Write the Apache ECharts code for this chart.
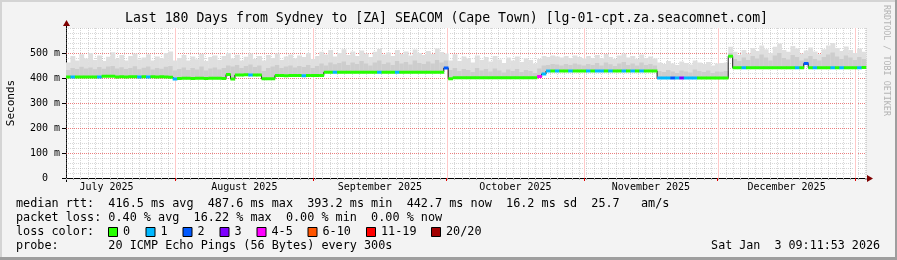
<!DOCTYPE html>
<html><head><meta charset="utf-8">
<script src="https://cdn.jsdelivr.net/npm/echarts@6/dist/echarts.min.js"></script>
<style>html,body{margin:0;padding:0;background:#f3f3f3}#c{width:897px;height:260px}</style>
</head><body><div id="c"></div><script>
// ---- data ----
const DAY0 = 6.383; // start of window (Jul 7 09:11) in days since Jul 1 2025
const SPAN = 180;
const monthStarts = [31, 62, 92, 123, 153, 184];
const monthMids = [15.5, 46.5, 77, 107.5, 138, 168.5];
const monthNames = ['July 2025', 'August 2025', 'September 2025', 'October 2025', 'November 2025', 'December 2025'];
const yTickValues = [0, 100, 200, 300, 400, 500];

const median = [
404,404,404,404,404,404,404,404,407,407,
407,404,405,404,405,405,404,405,404,405,
404,405,404,403,396,398,399,399,398,399,
399,398,399,399,399,398,414,396,412,412,
413,412,412,412,397,397,397,410,410,409,
410,410,410,409,410,410,410,410,423,423,
423,423,423,423,423,423,423,423,423,423,
423,423,423,423,423,423,423,423,423,423,
423,423,423,423,423,440,397,401,401,401,
401,401,401,401,401,401,401,401,401,401,
401,401,401,401,401,401,406,416,428,428,
428,428,428,428,428,428,428,428,428,428,
428,428,428,428,428,428,428,428,428,428,
428,428,428,400,400,400,400,400,400,400,
400,400,400,400,400,400,400,400,400,487,
441,441,441,441,441,441,441,441,441,441,
441,441,441,441,441,441,458,441,441,441,
441,441,441,441,441,441,441,441,441,442];

const loss = [
0,1,0,0,0,0,0,1,0,0,
0,0,0,0,0,0,1,0,1,0,
0,0,0,0,1,0,0,0,0,0,
0,0,0,0,0,0,0,0,0,0,
0,1,0,0,0,0,0,0,0,0,
0,0,0,1,0,0,0,0,0,0,
1,0,0,0,0,0,0,0,0,0,
1,0,0,0,1,0,0,0,0,0,
0,0,0,0,0,2,0,0,0,0,
0,0,0,0,0,0,0,0,0,0,
0,0,0,0,0,0,4,1,1,0,
1,0,0,1,0,0,0,1,0,1,
1,0,1,0,0,1,0,1,0,1,
0,0,0,1,1,1,2,1,3,1,
1,1,0,0,0,0,0,0,0,0,
0,0,1,0,0,0,0,0,0,0,
0,0,0,0,1,0,2,0,1,0,
0,0,1,0,1,0,0,0,1,0];

const smokeMid = [
432,440,436,445,438,442,435,444,437,446,
448,438,443,436,440,447,435,441,446,434,
440,437,445,448,430,
436,442,432,440,434,446,430,438,442,434,
440,450,446,452,440,448,454,444,450,428,
440,446,452,440,446,450,442,448,444,452,440,
448,458,450,462,455,460,466,452,462,456,
468,458,450,462,470,456,462,452,468,458,
464,454,470,460,456,466,458,472,462,470,
432,440,428,436,432,424,440,430,436,426,
438,430,422,434,428,436,424,432,428,420,
438,450,452,456,454,450,456,452,458,454,450,
456,452,460,450,462,455,448,458,464,452,
458,450,462,452,456,450,428,424,432,426,
420,430,426,422,434,428,424,430,420,426,
425,428,500,
476,468,482,472,488,478,494,482,470,490,
500,480,474,492,484,470,478,488,476,470,
484,494,502,486,476,490,482,472,484,476];

const smokeHi = [
462,488,470,495,478,500,472,490,468,485,
503,476,492,470,488,498,474,482,495,470,
486,478,500,506,470,
480,492,470,486,475,497,468,484,490,472,
488,500,478,493,470,485,498,476,488,470,
492,480,498,472,486,494,478,490,484,500,476,
488,505,494,512,486,500,515,492,506,488,
510,498,484,505,516,494,502,488,512,496,
506,490,514,500,492,508,496,518,504,498,
470,495,468,486,478,462,490,472,484,466,
488,474,460,482,470,486,464,478,472,458,
476,488,484,490,486,482,488,480,490,484,478,
488,480,492,478,496,484,476,490,498,482,
488,476,494,480,486,478,
462,456,468,458,452,466,460,454,470,462,
456,464,450,458,
460,462,525,
505,492,512,498,520,508,530,515,500,525,
538,512,505,528,518,498,510,522,506,495,
515,530,540,520,508,526,512,500,518,505];

const lossLabels = ['0', '1', '2', '3', '4-5', '6-10', '11-19', '20/20'];
const lossColors = ['#26ff00', '#00b8ff', '#0059ff', '#7e00ff', '#ff00ff', '#ff5500', '#ff0000', '#a10000'];

const titleText = 'Last 180 Days from Sydney to [ZA] SEACOM (Cape Town) [lg-01-cpt.za.seacomnet.com]';
const legendLines = [
  'median rtt:  416.5 ms avg  487.6 ms max  393.2 ms min  442.7 ms now  16.2 ms sd  25.7   am/s',
  'packet loss: 0.40 % avg  16.22 % max  0.00 % min  0.00 % now',
  'loss color:',
  'probe:       20 ICMP Echo Pings (56 Bytes) every 300s'
];
const dateText = 'Sat Jan  3 09:11:53 2026';
const sideText = 'RRDTOOL / TOBI OETIKER';

// ---- helpers ----
function lossColor(n) {
  if (n <= 0) return lossColors[0];
  if (n === 1) return lossColors[1];
  if (n === 2) return lossColors[2];
  if (n === 3) return lossColors[3];
  if (n <= 5) return lossColors[4];
  if (n <= 10) return lossColors[5];
  if (n <= 19) return lossColors[6];
  return lossColors[7];
}
const MONO = 'DejaVu Sans Mono';
const smokeData = median.map((m, i) => [DAY0 + i + 0.5, m, smokeMid[i], smokeHi[i]]);
const bandData = median.map((m, i) => [DAY0 + i + 0.5, m, loss[i]]);
const lineData = [[DAY0, median[0]]].concat(median.map((m, i) => [DAY0 + i + 0.5, m]), [[DAY0 + SPAN, median[median.length - 1]]]);
const monthLineData = monthStarts.filter(d => d > DAY0 && d < DAY0 + SPAN).map(d => [d, 0]);

const G = { left: 66, top: 28, right: 31, bottom: 82 };

const graphics = [
  { type: 'rect', shape: { x: 0, y: 0, width: 897, height: 2 }, style: { fill: '#d4d4d4' }, silent: true },
  { type: 'rect', shape: { x: 0, y: 0, width: 2, height: 260 }, style: { fill: '#d4d4d4' }, silent: true },
  { type: 'rect', shape: { x: 895, y: 0, width: 2, height: 260 }, style: { fill: '#9e9e9e' }, silent: true },
  { type: 'rect', shape: { x: 0, y: 257, width: 897, height: 3 }, style: { fill: '#9e9e9e' }, silent: true },
  { type: 'text', x: 446.5, y: 19, style: { text: titleText, font: '13.2px "' + MONO + '"', fill: '#000', align: 'center', verticalAlign: 'middle' }, silent: true },
  { type: 'text', x: 11, y: 103, rotation: Math.PI / 2, style: { text: 'Seconds', font: '11px "' + MONO + '"', fill: '#000', align: 'center', verticalAlign: 'middle' }, silent: true },
  { type: 'text', x: 886, y: 5, rotation: -Math.PI / 2, style: { text: sideText, font: '8.4px "' + MONO + '"', fill: '#b4b4b4', align: 'left', verticalAlign: 'middle' }, silent: true },
  { type: 'line', shape: { x1: 62, y1: 178.5, x2: 868, y2: 178.5 }, style: { stroke: '#000', lineWidth: 1 }, silent: true },
  { type: 'line', shape: { x1: 66.5, y1: 182, x2: 66.5, y2: 24 }, style: { stroke: '#000', lineWidth: 1 }, silent: true },
  { type: 'polygon', shape: { points: [[867, 175], [873, 178.5], [867, 182]] }, style: { fill: '#7f0000' }, silent: true },
  { type: 'polygon', shape: { points: [[63, 26], [66.5, 20], [70, 26]] }, style: { fill: '#7f0000' }, silent: true },
  { type: 'text', x: 880, y: 246, style: { text: dateText, font: '11.7px "' + MONO + '"', fill: '#000', align: 'right', verticalAlign: 'middle' }, silent: true }
];
const legendY = [204.3, 218.3, 232.3, 246];
legendLines.forEach((t, k) => {
  graphics.push({ type: 'text', x: 16, y: legendY[k], style: { text: t, font: '11.8px "' + MONO + '"', fill: '#000', align: 'left', verticalAlign: 'middle' }, silent: true });
});
const boxX = [108, 145.5, 182.5, 219.5, 256.5, 307.5, 366, 431];
lossLabels.forEach((lab, k) => {
  graphics.push({ type: 'rect', shape: { x: boxX[k] + 0.5, y: 227.5, width: 9, height: 9 }, style: { fill: lossColors[k], stroke: '#000', lineWidth: 1 }, silent: true });
  graphics.push({ type: 'text', x: boxX[k] + 15, y: 232.3, style: { text: lab, font: '11.8px "' + MONO + '"', fill: '#000', align: 'left', verticalAlign: 'middle' }, silent: true });
});

const minorGrid = { color: 'rgba(150,150,150,0.38)', type: [1, 1], width: 1 };
const majorColor = 'rgba(255,40,40,0.5)';
const majorGrid = { color: majorColor, type: [1, 1], width: 1 };

const option = {
  backgroundColor: '#f3f3f3',
  animation: false,
  grid: { left: G.left, top: G.top, right: G.right, bottom: G.bottom, show: true, backgroundColor: '#ffffff', borderWidth: 0 },
  xAxis: [
    { type: 'value', min: DAY0, max: DAY0 + SPAN, position: 'bottom',
      axisLine: { show: false }, axisTick: { show: false }, axisLabel: { show: false }, splitLine: { show: false } },
    { type: 'value', min: 0, max: SPAN, interval: 1.65, position: 'bottom', z: 0,
      axisLine: { show: false }, axisTick: { show: true, length: 2, lineStyle: { color: '#aaa' } },
      axisLabel: { show: false }, splitLine: { show: true, lineStyle: minorGrid } },
    { type: 'value', min: DAY0, max: DAY0 + SPAN, position: 'bottom', z: 1,
      axisLine: { show: false },
      axisTick: { show: true, customValues: monthStarts, length: 3, lineStyle: { color: '#e00000' } },
      axisLabel: { show: true, customValues: monthMids, margin: 4, fontFamily: MONO, fontSize: 10, color: '#000',
        formatter: v => { const k = monthMids.indexOf(v); return k >= 0 ? monthNames[k] : ''; } },
      splitLine: { show: false } }
  ],
  yAxis: [
    { type: 'value', min: 0, max: 600, interval: 100, z: 1,
      axisLine: { show: false }, axisTick: { show: true, length: 4, lineStyle: { color: '#000' } },
      axisLabel: { margin: 6, fontFamily: MONO, fontSize: 10, color: '#000', showMaxLabel: false,
        formatter: v => (yTickValues.indexOf(v) < 0 ? '' : (v === 0 ? '0  ' : v + ' m')) },
      splitLine: { show: true, showMinLine: false, showMaxLine: false, lineStyle: majorGrid } },
    { type: 'value', min: 0, max: 600, interval: 20, z: 0,
      axisLine: { show: false }, axisTick: { show: false }, axisLabel: { show: false },
      splitLine: { show: true, showMinLine: false, lineStyle: minorGrid } }
  ],
  graphic: graphics,
  series: [
    { type: 'custom', name: 'monthGrid', xAxisIndex: 0, yAxisIndex: 0, z: 1, silent: true,
      data: monthLineData,
      renderItem: (p, api) => {
        const b = api.coord([api.value(0), 0]);
        const t = api.coord([api.value(0), 600]);
        const x = Math.round(b[0]) + 0.5;
        return { type: 'group', children: [
          { type: 'line', shape: { x1: x, y1: b[1] - 0.5, x2: x, y2: t[1] }, style: { stroke: '#ffffff', lineWidth: 3 } },
          { type: 'line', shape: { x1: x, y1: b[1] - 0.5, x2: x, y2: t[1] }, style: { stroke: majorColor, lineWidth: 1, lineDash: [1, 1] } }
        ] };
      } },
    { type: 'custom', name: 'smoke', xAxisIndex: 0, yAxisIndex: 0, z: 2, silent: true,
      data: smokeData,
      renderItem: (p, api) => {
        const x = api.value(0), m = api.value(1), mid = api.value(2), hi = api.value(3);
        const a = api.coord([x - 0.5, hi]);
        const b = api.coord([x + 0.5, m]);
        const c = api.coord([x - 0.5, mid]);
        const w = b[0] - a[0] + 0.4;
        return { type: 'group', children: [
          { type: 'rect', shape: { x: a[0], y: a[1], width: w, height: b[1] - a[1] }, style: { fill: '#dfdfdf' } },
          { type: 'rect', shape: { x: c[0], y: c[1], width: w, height: b[1] - c[1] }, style: { fill: '#cdcdcd' } }
        ] };
      } },
    { type: 'line', name: 'median', xAxisIndex: 0, yAxisIndex: 0, z: 3, step: 'middle', silent: true,
      data: lineData, symbol: 'none', lineStyle: { color: '#202020', width: 1 } },
    { type: 'custom', name: 'loss', xAxisIndex: 0, yAxisIndex: 0, z: 4, silent: true,
      data: bandData,
      renderItem: (p, api) => {
        const x = api.value(0), m = api.value(1), l = api.value(2);
        const a = api.coord([x - 0.5, m]);
        const b = api.coord([x + 0.5, m]);
        return { type: 'rect', shape: { x: a[0], y: a[1] - 1.5, width: b[0] - a[0] + 0.3, height: 3 }, style: { fill: lossColor(l) } };
      } }
  ]
};
const chart = echarts.init(document.getElementById('c'), null, { renderer: 'canvas' });
chart.setOption(option);
</script></body></html>
